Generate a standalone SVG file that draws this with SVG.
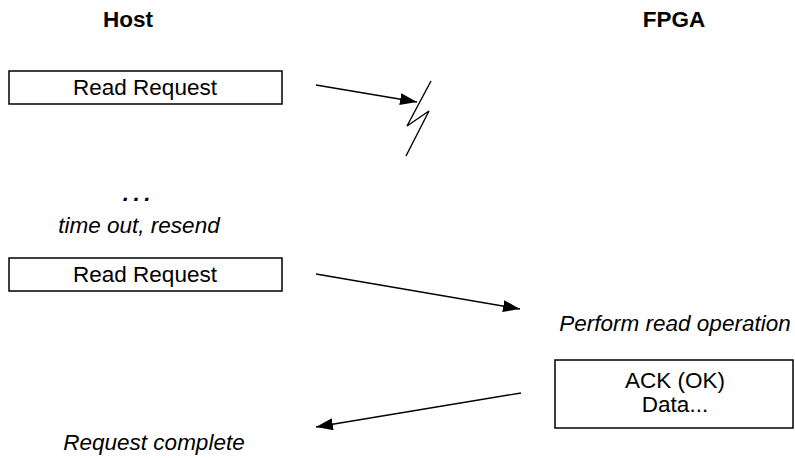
<svg xmlns="http://www.w3.org/2000/svg" width="795" height="458" viewBox="0 0 795 458">
<style>
.box{fill:#fff;stroke:#000;stroke-width:1.5}
.t{font-family:"Liberation Sans",Arial,sans-serif;font-size:22.5px;fill:#000;text-anchor:middle}
.b{font-weight:bold}
.i{font-style:italic}
.c{fill:none;stroke:#000;stroke-width:1.4}
</style>
<defs>
<marker id="ah" markerUnits="userSpaceOnUse" markerWidth="18" markerHeight="12" refX="17" refY="6" orient="auto">
<path d="M0,0 L17,6 L0,12 Z" fill="#000"/>
</marker>
</defs>
<rect width="795" height="458" fill="#fff"/>
<g id="host-label"><text class="t b" x="128" y="27">Host</text></g>
<g id="fpga-label"><text class="t b" x="674" y="27">FPGA</text></g>
<g id="req1">
<rect class="box" x="9" y="71" width="273" height="33"/>
<text class="t" x="145" y="95">Read Request</text>
</g>
<g id="lost">
<polyline class="c" points="431,81 407,126 429,111 406,156"/>
</g>
<g id="timeout">
<text class="t b i" x="139" y="201" letter-spacing="4.5">...</text>
<text class="t i" x="139" y="233">time out, resend</text>
</g>
<g id="req2">
<rect class="box" x="9" y="258" width="273" height="33"/>
<text class="t" x="145" y="282">Read Request</text>
</g>
<g id="perform"><text class="t i" x="675" y="331">Perform read operation</text></g>
<g id="ack">
<rect class="box" x="555" y="360" width="238" height="68"/>
<text class="t" x="675" y="388">ACK (OK)</text>
<text class="t" x="675" y="412">Data...</text>
</g>
<g id="complete"><text class="t i" x="154" y="450">Request complete</text></g>
<g id="connectors">
<line class="c" x1="316" y1="85" x2="417" y2="102" marker-end="url(#ah)"/>
<line class="c" x1="316" y1="274" x2="520" y2="309" marker-end="url(#ah)"/>
<line class="c" x1="521" y1="393" x2="316" y2="427" marker-end="url(#ah)"/>
</g>
</svg>
